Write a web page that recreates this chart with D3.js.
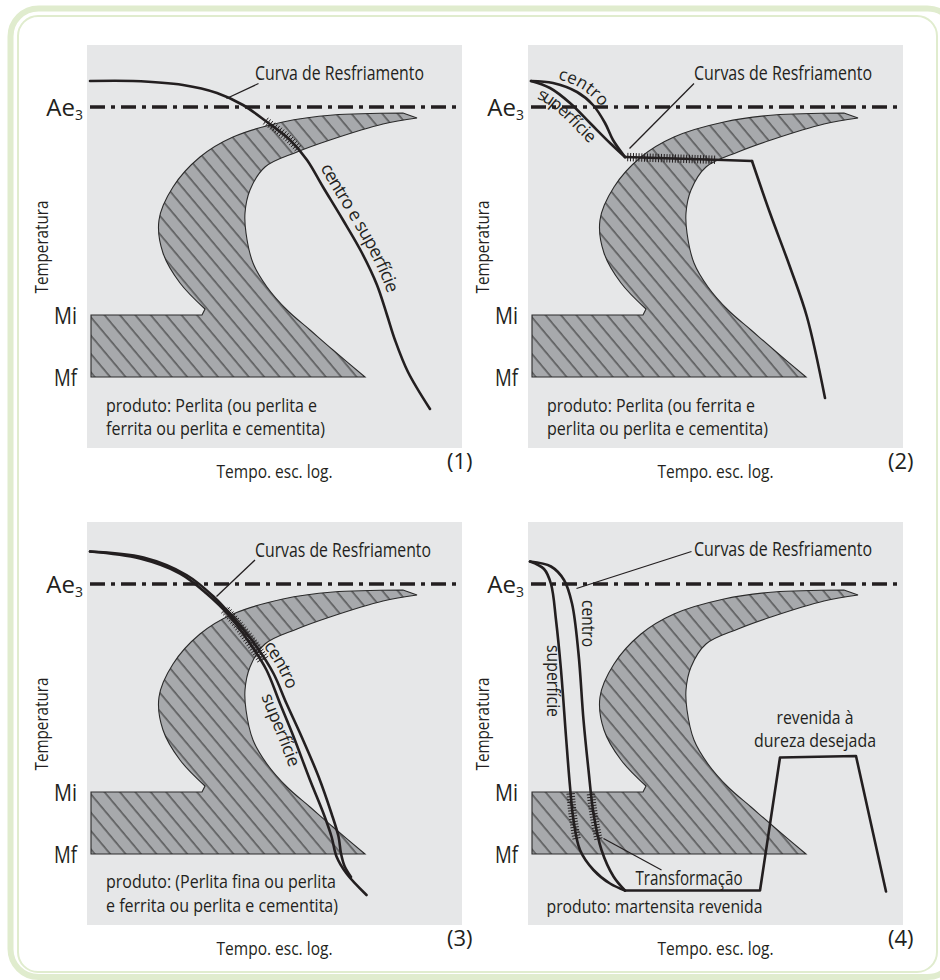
<!DOCTYPE html>
<html><head><meta charset="utf-8">
<script src="https://cdn.jsdelivr.net/npm/d3@7"></script>
<style>
body{margin:0;background:#fff}
svg{display:block}
text{font-family:"Open Sans","Liberation Sans",sans-serif;fill:#231f20}
</style>
</head><body>
<svg id="c" width="940" height="980"></svg>
<script>
// ---------------- DATA (time in log units 0-75, temperature in relative units 0-80) ----------------
const levelNames = ["Ae", "Mi", "Mf"];
const levelTemps = [67.6, 26, 13.6];

// nose (TTT) curve: outer edge, tip, inner edge ; martensite box
const noseOuter = [[23.6,27.2],[18.6,32.4],[15.2,38.4],[14.4,45],[17.2,51.6],[22.6,57.6],[29.2,61.6],[39.2,64.6],[49.2,66],[63.2,66.4]];
const noseTip = [66,65.4];
const noseInner = [[59.2,64.2],[48.6,61],[42,58.6],[35.6,55.6],[32.6,51],[31.6,46.4],[31.8,42.4],[33.2,36.4],[36,31.6],[40,27],[44.6,23],[49.2,19],[55.6,13.6]];
const boxLeft = 0.8;

// panel 1
const cool1 = [[0.6,72.8],[9.2,72.8],[19.2,72],[26,70.4],[31.2,68],[36,64.6],[40.6,61],[44,57],[47.2,51.6],[51.2,45],[55,38.4],[58,32],[60,26],[61.6,21],[64.2,14.6],[68.6,7.2]];
// panel 2
const cen2 = [[0.6,72.8],[5,72.4],[9.8,70.6],[13,68],[15.4,64.4],[17,61],[19.4,57.6]];
const sup2 = [[0.6,72.8],[4.4,71.4],[8.4,68.4],[12.4,64.4],[16.4,60.4],[19.4,57.6]];
const hold2 = [[19.4,57.6],[39,57],[44.8,56.8]];
const drop2 = [[44.8,56.8],[48.4,46.4],[52.4,35.6],[55.8,25.6],[59.4,9.4]];
// panel 3
const sup3 = [[0.6,74.1],[10.6,72.7],[18.6,69.7],[23.9,65.7],[28.6,61.1],[32.6,55.7],[35.9,50.4],[38.6,43.7],[41.3,37.1],[44.6,28.4],[47.3,21.7],[48.9,17.1],[49.9,13.1],[51.9,9.7],[55.9,5.4]];
const cen3 = [[0.6,74.1],[11.3,72.9],[19.9,69.4],[25.3,65.1],[29.9,60.1],[33.9,55.1],[37.3,49.7],[39.9,43.7],[42.9,37.1],[46.3,29.1],[48.9,21.7],[50.3,17.1],[50.8,13.7],[51.5,11.2],[52.8,9.0]];
// panel 4
const sup4 = [[0.4,72.1],[3.2,70.6],[4.6,67.6],[5.6,60.4],[6.6,50.4],[7.6,37.1],[8.4,27.1],[9.1,20.4],[10.4,14.4],[13.1,10.4],[16.4,7.7],[19.4,6.3]];
const cen4 = [[0.4,72.1],[4.6,71.1],[7.2,68.4],[8.8,63.7],[10.1,53.7],[11.1,40.4],[12.1,30.4],[13.1,21.7],[14.7,14.4],[17.1,9.1],[19.4,6.3]];
const temper4 = [[19.4,6.3],[46.4,6.3],[50.4,32.9],[65.6,33.2],[71.6,6.1]];

// texts
const panelTags = ["(1)", "(2)", "(3)", "(4)"];
const curveTitles = ["Curva de Resfriamento", "Curvas de Resfriamento", "Curvas de Resfriamento", "Curvas de Resfriamento"];
const productLines = [
  ["produto: Perlita (ou perlita e", "ferrita ou perlita e cementita)"],
  ["produto: Perlita (ou ferrita e", "perlita ou perlita e cementita)"],
  ["produto: (Perlita fina ou perlita", "e ferrita ou perlita e cementita)"],
  ["produto: martensita revenida"]
];
const axisX = "Tempo. esc. log.";
const axisY = "Temperatura";

// ---------------- LAYOUT ----------------
const W = 375, H = 403;
const panelPos = [[87,45],[528,45],[87,522],[528,522]];
const titleLayout = [ {at:[33.6,73], w:169, lead:[[34.3,72.3],[27.9,69.3]]},
                      {at:[33.2,73], w:178, lead:[[33.2,72.3],[20.3,59.3]]},
                      {at:[33.6,73.1], w:176, lead:[[33.6,72.4],[25.9,65.1]]},
                      {at:[33.2,73.2], w:178, lead:[[32.7,74.1],[9.7,66.7]]} ];
const productLayout = [ {x:3.8, ys:[6.6,2.0], w:[211,219]},
                        {x:3.8, ys:[6.6,2.0], w:[208,221]},
                        {x:3.8, ys:[6.9,2.1], w:[230,232]},
                        {x:3.7, ys:[1.8], w:[216]} ];

const xs = d3.scaleLinear().domain([0,75]).range([0,375]);
const ys = d3.scaleLinear().domain([0,80]).range([400,0]);
const smooth = d3.line().x(d=>xs(d[0])).y(d=>ys(d[1])).curve(d3.curveCatmullRom.alpha(0.5));
const straight = d3.line().x(d=>xs(d[0])).y(d=>ys(d[1]));
const INK = "#231f20";

const svg = d3.select("#c");
const defs = svg.append("defs");
defs.append("pattern").attr("id","hatch").attr("patternUnits","userSpaceOnUse")
  .attr("width",11.8).attr("height",11.8).attr("patternTransform","rotate(-40)")
  .append("line").attr("x1",5).attr("x2",5).attr("y1",-1).attr("y2",12.8)
  .attr("stroke","#2a2a2a").attr("stroke-width",1);

function join(parts){ return parts.map((p,i)=> i ? p.replace(/^M/,"L") : p).join("") + "Z"; }
const noseD = join([
  straight([[boxLeft,levelTemps[1]],[noseOuter[0][0]-0.6,levelTemps[1]],noseOuter[0]]),
  smooth(noseOuter),
  straight([noseOuter[noseOuter.length-1], noseTip]),
  smooth([noseTip].concat(noseInner)),
  straight([noseInner[noseInner.length-1],[boxLeft,levelTemps[2]]])
]);

function lengthWhere(node, pred){
  const L = node.getTotalLength();
  for(let l=0;l<=L;l+=0.5){ const p=node.getPointAtLength(l); if(pred(xs.invert(p.x), ys.invert(p.y))) return l; }
  return 0;
}
function ticksAlong(g, node, axis, lo, hi, step, half){
  const L = node.getTotalLength(), out=[];
  for(let l=0;l<=L;l+=step){
    const p=node.getPointAtLength(l);
    const v = axis==="t" ? ys.invert(p.y) : xs.invert(p.x);
    if(v<lo||v>hi) continue;
    const a=node.getPointAtLength(Math.max(0,l-0.7)), b=node.getPointAtLength(Math.min(L,l+0.7));
    let dx=b.x-a.x, dy=b.y-a.y; const n=Math.hypot(dx,dy)||1; dx/=n; dy/=n;
    out.push([p.x-dy*half,p.y+dx*half,p.x+dy*half,p.y-dx*half]);
  }
  g.append("g").selectAll("line").data(out).join("line")
    .attr("x1",d=>d[0]).attr("y1",d=>d[1]).attr("x2",d=>d[2]).attr("y2",d=>d[3])
    .attr("stroke",INK).attr("stroke-width",1);
}
function drawCurve(g, pts, kind, id){
  return g.append("path").attr("id",id||null).attr("d",(kind==="s"?smooth:straight)(pts))
    .attr("fill","none").attr("stroke",INK).attr("stroke-width",2.6)
    .attr("stroke-linecap","round").attr("stroke-linejoin","round");
}
function pathLabel(g, id, node, txt, pred, dy, target, size){
  const t = g.append("text").attr("font-size",size).attr("dy",dy);
  t.append("textPath").attr("href","#"+id).attr("startOffset",lengthWhere(node,pred)).text(txt);
  const nat = t.node().getComputedTextLength();
  t.attr("letter-spacing",((target-nat)/(txt.length-1)).toFixed(2));
}

const curveSets = [
  [{p:cool1,k:"s",id:"c1"}],
  [{p:cen2,k:"s",id:"c2c"},{p:sup2,k:"s",id:"c2s"},{p:hold2,k:"l",id:"c2h"},{p:drop2,k:"s",id:"c2d"}],
  [{p:sup3,k:"s",id:"c3s"},{p:cen3,k:"s",id:"c3c"}],
  [{p:sup4,k:"s",id:"c4s"},{p:cen4,k:"s",id:"c4c"},{p:temper4,k:"l",id:"c4t"}]
];
const tickSets = [
  [["c1","t",59,64.8]],
  [["c2h","x",19.8,37.4]],
  [["c3s","t",52.4,62.4],["c3c","t",52.4,62.4]],
  [["c4s","t",16.4,26],["c4c","t",16.4,26]]
];

panelPos.forEach((pp,i)=>{
  const g = svg.append("g").attr("transform",`translate(${pp[0]},${pp[1]})`);
  g.append("rect").attr("width",W).attr("height",H).attr("fill","#e6e7e8");
  g.append("path").attr("d",noseD).attr("fill","#a7a9ac");
  g.append("path").attr("d",noseD).attr("fill","url(#hatch)");
  g.append("path").attr("d",noseD).attr("fill","none").attr("stroke","#2a2a2a").attr("stroke-width",1.1);

  // Ae3 dash-dot
  g.append("line").attr("x1",xs(0.6)).attr("x2",W).attr("y1",ys(levelTemps[0])).attr("y2",ys(levelTemps[0]))
    .attr("stroke",INK).attr("stroke-width",3.6).attr("stroke-dasharray","15 6 4 6");

  // level labels
  const ae = g.append("text").attr("x",-4).attr("y",ys(levelTemps[0])+8.5).attr("text-anchor","end").attr("font-size",24);
  ae.append("tspan").text(levelNames[0]);
  ae.append("tspan").attr("font-size",14).attr("dy",4).text("3");
  [1,2].forEach(k=> g.append("text").attr("x",-10).attr("y",ys(levelTemps[k])+9).attr("text-anchor","end")
    .attr("font-size",24).attr("textLength",23).attr("lengthAdjust","spacingAndGlyphs").text(levelNames[k]));

  // curves
  const nodes = {};
  curveSets[i].forEach(c=>{ nodes[c.id]=drawCurve(g,c.p,c.k,c.id).node(); });
  tickSets[i].forEach(t=>ticksAlong(g,nodes[t[0]],t[1],t[2],t[3],2.8,4.2));

  // title + leader
  const tl = titleLayout[i];
  g.append("text").attr("x",xs(tl.at[0])).attr("y",ys(tl.at[1])).attr("font-size",20)
    .attr("textLength",tl.w).attr("lengthAdjust","spacingAndGlyphs").text(curveTitles[i]);
  g.append("path").attr("d",straight(tl.lead)).attr("stroke",INK).attr("stroke-width",1.3).attr("fill","none");

  // product text
  const pl = productLayout[i];
  productLines[i].forEach((s,k)=> g.append("text").attr("x",xs(pl.x)).attr("y",ys(pl.ys[k])).attr("font-size",17.5)
    .attr("textLength",pl.w[k]).attr("lengthAdjust","spacingAndGlyphs").text(s));

  // axes titles and tag
  g.append("text").attr("transform",`translate(-39,202) rotate(-90)`).attr("text-anchor","middle").attr("font-size",18)
    .attr("textLength",93).attr("lengthAdjust","spacingAndGlyphs").text(axisY);
  g.append("text").attr("x",W/2).attr("y",433).attr("text-anchor","middle").attr("font-size",18.5)
    .attr("textLength",116).attr("lengthAdjust","spacingAndGlyphs").text(axisX);
  g.append("text").attr("x",360).attr("y",424).attr("font-size",22).text(panelTags[i]);

  // curve labels
  if(i===0){
    pathLabel(g,"c1",nodes.c1,"centro e superfície",(x,t)=>t<=54.8,-7,142,18);
  } else if(i===1){
    pathLabel(g,"c2c",nodes.c2c,"centro",(x,t)=>x>=5.6,-5,50,17);
    pathLabel(g,"c2s",nodes.c2s,"superfície",(x,t)=>x>=2.8,15,76,17);
  } else if(i===2){
    pathLabel(g,"c3c",nodes.c3c,"centro",(x,t)=>t<=54.6,-6,49,17.5);
    pathLabel(g,"c3s",nodes.c3s,"superfície",(x,t)=>t<=46.3,15,77,17.5);
  } else {
    g.append("text").attr("transform",`translate(${xs(3.8)},${ys(55.4)}) rotate(90)`).attr("font-size",18)
      .attr("textLength",72).attr("lengthAdjust","spacingAndGlyphs").text("superfície");
    g.append("text").attr("transform",`translate(${xs(10.8)},${ys(64.4)}) rotate(90)`).attr("font-size",18)
      .attr("textLength",47).attr("lengthAdjust","spacingAndGlyphs").text("centro");
    g.append("text").attr("x",xs(21.5)).attr("y",ys(7.4)).attr("font-size",19.5)
      .attr("textLength",107).attr("lengthAdjust","spacingAndGlyphs").text("Transformação");
    g.append("path").attr("d",straight([[26.7,10.4],[15.1,16.7]])).attr("stroke",INK).attr("stroke-width",1.2).attr("fill","none");
    g.append("text").attr("x",xs(57.4)).attr("y",ys(39.6)).attr("text-anchor","middle").attr("font-size",18.5)
      .attr("textLength",77).attr("lengthAdjust","spacingAndGlyphs").text("revenida à");
    g.append("text").attr("x",xs(57.4)).attr("y",ys(35)).attr("text-anchor","middle").attr("font-size",18.5)
      .attr("textLength",122).attr("lengthAdjust","spacingAndGlyphs").text("dureza desejada");
  }
});

// frame
svg.append("rect").attr("x",10.5).attr("y",8.5).attr("width",945).attr("height",968.5).attr("rx",28)
  .attr("fill","none").attr("stroke","#e0ecce").attr("stroke-width",6);
svg.append("rect").attr("x",18).attr("y",16).attr("width",919).attr("height",956).attr("rx",20)
  .attr("fill","none").attr("stroke","#e0ecce").attr("stroke-width",2);
</script>
</body></html>
